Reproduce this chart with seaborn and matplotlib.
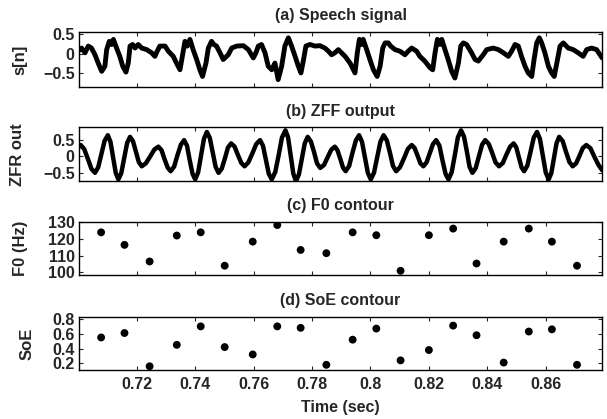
import numpy as np
import pandas as pd
import seaborn as sns
import matplotlib
matplotlib.use("Agg")
import matplotlib.pyplot as plt

# speech signal s[n] (time in sec, amplitude)
speech_t = [0.7002, 0.7011, 0.7023, 0.7034, 0.7045, 0.7057, 0.7068, 0.7080, 0.7091, 0.7097,
            0.7106, 0.7114, 0.7120, 0.7131, 0.7142, 0.7152, 0.7163, 0.7171, 0.7177, 0.7186,
            0.7194, 0.7205, 0.7217, 0.7234, 0.7251, 0.7262, 0.7270, 0.7279, 0.7297, 0.7308,
            0.7325, 0.7336, 0.7348, 0.7357, 0.7365, 0.7373, 0.7382, 0.7393, 0.7405, 0.7416,
            0.7425, 0.7437, 0.7445, 0.7456, 0.7464, 0.7473, 0.7485, 0.7496, 0.7513, 0.7525,
            0.7542, 0.7565, 0.7582, 0.7599, 0.7608, 0.7616, 0.7627, 0.7639, 0.7650, 0.7662,
            0.7673, 0.7684, 0.7696, 0.7707, 0.7719, 0.7730, 0.7742, 0.7753, 0.7762, 0.7770,
            0.7779, 0.7793, 0.7810, 0.7827,
            0.7844, 0.7856, 0.7867, 0.7878, 0.7890, 0.7901, 0.7913, 0.7930, 0.7947, 0.7955,
            0.7962, 0.7970, 0.7975, 0.7987, 0.7998, 0.8010, 0.8023, 0.8033, 0.8042, 0.8050,
            0.8061, 0.8069, 0.8084, 0.8101, 0.8118, 0.8129, 0.8141, 0.8158, 0.8169, 0.8186,
            0.8204, 0.8213, 0.8221, 0.8229, 0.8238, 0.8244, 0.8255, 0.8266, 0.8278, 0.8289,
            0.8301, 0.8309, 0.8318, 0.8329, 0.8346, 0.8358, 0.8369, 0.8386, 0.8398, 0.8420,
            0.8438, 0.8455, 0.8472, 0.8483, 0.8495, 0.8506, 0.8517, 0.8529, 0.8540, 0.8552,
            0.8560, 0.8569, 0.8578, 0.8586, 0.8597, 0.8609, 0.8620, 0.8629, 0.8640, 0.8649,
            0.8660, 0.8677, 0.8694, 0.8711, 0.8728, 0.8740, 0.8757, 0.8774, 0.8786, 0.8793]
speech_s = [0.08, 0.14, 0.02, 0.19, 0.14, -0.03, -0.24, -0.45, -0.32, 0.10,
            0.31, 0.23, 0.36, 0.14, -0.07, -0.32, -0.47, -0.24, 0.19, 0.23,
            0.14, 0.23, 0.14, 0.10, 0.02, -0.07, 0.06, 0.19, 0.19, 0.06,
            -0.07, -0.24, -0.41, -0.03, 0.31, 0.19, 0.36, 0.10, -0.15, -0.41,
            -0.58, -0.24, 0.14, 0.31, 0.23, 0.19, 0.02, -0.15, -0.03, 0.14,
            0.19, 0.20, 0.10, -0.11, 0.02, 0.19, 0.23, 0.02, -0.32, -0.41,
            -0.24, -0.66, -0.32, 0.19, 0.40, 0.19, -0.07, -0.32, -0.49, -0.19,
            0.19, 0.23, 0.19, 0.20,
            0.14, 0.06, -0.03, 0.02, 0.10, 0.02, -0.07, -0.24, -0.49, 0.02,
            0.36, 0.23, 0.36, 0.10, -0.15, -0.41, -0.58, -0.32, 0.14, 0.27,
            0.27, 0.19, 0.10, 0.06, -0.03, 0.06, 0.14, 0.06, -0.07, -0.19,
            -0.36, -0.41, 0.02, 0.36, 0.23, 0.36, 0.10, -0.15, -0.45, -0.62,
            -0.24, 0.19, 0.27, 0.23, 0.02, -0.15, -0.19, -0.03, 0.10, 0.14,
            0.10, 0.02, -0.07, 0.06, 0.23, 0.19, -0.07, -0.32, -0.49, -0.58,
            -0.15, 0.27, 0.40, 0.27, 0.02, -0.32, -0.49, -0.58, -0.15, 0.19,
            0.27, 0.14, 0.10, 0.02, -0.07, 0.10, 0.14, 0.10, -0.03, -0.11]

# ZFF output: peaks, troughs, shoulders and crossings
zff_t = [0.7002, 0.7008, 0.7020, 0.7033, 0.7045,
         0.7057, 0.7068, 0.7079, 0.7090,
         0.7101, 0.7110, 0.7119, 0.7128,
         0.7137, 0.7147, 0.7157, 0.7167,
         0.7177, 0.7187, 0.7197, 0.7207,
         0.7217, 0.7231, 0.7246, 0.7260,
         0.7274, 0.7285, 0.7295, 0.7306,
         0.7316, 0.7328, 0.7339, 0.7351,
         0.7362, 0.7372, 0.7381, 0.7391,
         0.7400, 0.7410, 0.7420, 0.7430,
         0.7440, 0.7450, 0.7460, 0.7470,
         0.7480, 0.7491, 0.7502, 0.7512,
         0.7523, 0.7535, 0.7546, 0.7558,
         0.7569, 0.7582, 0.7596, 0.7609,
         0.7622, 0.7632, 0.7642, 0.7652,
         0.7662, 0.7674, 0.7686, 0.7697,
         0.7709, 0.7718, 0.7727, 0.7736,
         0.7745, 0.7755, 0.7765, 0.7775,
         0.7785, 0.7796, 0.7807, 0.7817,
         0.7828, 0.7841, 0.7853, 0.7866,
         0.7878, 0.7887, 0.7897, 0.7906,
         0.7915, 0.7927, 0.7938, 0.7950,
         0.7961, 0.7971, 0.7981, 0.7991,
         0.8001, 0.8012, 0.8023, 0.8034,
         0.8045, 0.8056, 0.8067, 0.8077,
         0.8088, 0.8101, 0.8115, 0.8128,
         0.8141, 0.8151, 0.8161, 0.8171,
         0.8181, 0.8192, 0.8203, 0.8214,
         0.8225, 0.8236, 0.8246, 0.8257,
         0.8267, 0.8278, 0.8289, 0.8299,
         0.8310, 0.8320, 0.8330, 0.8339,
         0.8349, 0.8360, 0.8371, 0.8382,
         0.8393, 0.8405, 0.8417, 0.8428,
         0.8440, 0.8453, 0.8465, 0.8478,
         0.8490, 0.8499, 0.8508, 0.8517,
         0.8526, 0.8537, 0.8548, 0.8559,
         0.8570, 0.8580, 0.8590, 0.8600,
         0.8610, 0.8619, 0.8628, 0.8637,
         0.8646, 0.8658, 0.8669, 0.8681,
         0.8692, 0.8704, 0.8716, 0.8727,
         0.8739, 0.8753, 0.8766, 0.8780, 0.8793]
zff_y = [0.30, 0.35, 0.23, -0.08, -0.38,
         -0.50, -0.33, 0.08, 0.48,
         0.65, 0.45, -0.03, -0.50,
         -0.70, -0.51, -0.05, 0.41,
         0.60, 0.47, 0.15, -0.17,
         -0.30, -0.21, 0.00, 0.21,
         0.30, 0.19, -0.08, -0.34,
         -0.45, -0.31, 0.03, 0.36,
         0.50, 0.33, -0.10, -0.53,
         -0.70, -0.49, 0.03, 0.54,
         0.75, 0.57, 0.13, -0.32,
         -0.50, -0.37, -0.05, 0.27,
         0.40, 0.30, 0.05, -0.20,
         -0.30, -0.18, 0.10, 0.38,
         0.50, 0.33, -0.10, -0.53,
         -0.70, -0.48, 0.05, 0.58,
         0.80, 0.58, 0.03, -0.53,
         -0.75, -0.55, -0.08, 0.40,
         0.60, 0.46, 0.13, -0.21,
         -0.35, -0.26, -0.03, 0.21,
         0.30, 0.19, -0.08, -0.34,
         -0.45, -0.29, 0.10, 0.49,
         0.65, 0.45, -0.03, -0.50,
         -0.70, -0.50, -0.03, 0.45,
         0.65, 0.49, 0.10, -0.29,
         -0.45, -0.33, -0.05, 0.23,
         0.35, 0.26, 0.03, -0.21,
         -0.30, -0.18, 0.10, 0.38,
         0.50, 0.33, -0.10, -0.53,
         -0.70, -0.48, 0.05, 0.58,
         0.80, 0.61, 0.15, -0.31,
         -0.50, -0.36, 0.00, 0.36,
         0.50, 0.38, 0.10, -0.18,
         -0.30, -0.20, 0.05, 0.30,
         0.40, 0.28, -0.03, -0.33,
         -0.45, -0.28, 0.15, 0.58,
         0.75, 0.54, 0.03, -0.49,
         -0.70, -0.51, -0.05, 0.41,
         0.60, 0.47, 0.15, -0.17,
         -0.30, -0.21, 0.03, 0.26,
         0.35, 0.25, 0.00, -0.25, -0.42]

# epochs with F0 and strength of excitation
epoch_t = [0.7078, 0.7158, 0.7244, 0.7337, 0.7419, 0.7501, 0.7597, 0.7681, 0.7761, 0.7849,
           0.7939, 0.8020, 0.8103, 0.8200, 0.8283, 0.8363, 0.8456, 0.8542, 0.8621, 0.8707]
f0_hz = [123.7, 116.3, 106.5, 121.8, 123.7, 104.0, 118.2, 128.0, 113.3, 111.4,
         123.7, 122.0, 101.0, 122.0, 125.9, 105.3, 118.2, 125.9, 118.2, 104.0]
soe = [0.55, 0.61, 0.16, 0.45, 0.70, 0.42, 0.32, 0.70, 0.68, 0.18,
       0.52, 0.67, 0.24, 0.38, 0.71, 0.58, 0.21, 0.63, 0.66, 0.18]

xticks = [0.72, 0.74, 0.76, 0.78, 0.80, 0.82, 0.84, 0.86]
xtick_labels = ["0.72", "0.74", "0.76", "0.78", "0.8", "0.82", "0.84", "0.86"]

sns.set_style("ticks")
plt.rcParams['font.family'] = ['Liberation Sans', 'DejaVu Sans']
plt.rcParams['font.weight'] = 'bold'
plt.rcParams['axes.labelweight'] = 'bold'
plt.rcParams['axes.titleweight'] = 'bold'
plt.rcParams['axes.linewidth'] = 1.0

df_s = pd.DataFrame({'t': speech_t, 's': speech_s})
df_z = pd.DataFrame({'t': zff_t, 'z': zff_y})
df_e = pd.DataFrame({'t': epoch_t, 'f0': f0_hz, 'soe': soe})

fig = plt.figure(figsize=(6.07, 4.19), dpi=100)
L, W = 0.130, 0.862
ax1 = fig.add_axes([L, 0.793, W, 0.130])
ax2 = fig.add_axes([L, 0.568, W, 0.128])
ax3 = fig.add_axes([L, 0.344, W, 0.127])
ax4 = fig.add_axes([L, 0.117, W, 0.127])

sns.lineplot(data=df_s, x='t', y='s', ax=ax1, color='black', lw=3.5, sort=False)
sns.lineplot(data=df_z, x='t', y='z', ax=ax2, color='black', lw=3.2, sort=False)
sns.scatterplot(data=df_e, x='t', y='f0', ax=ax3, color='black', s=32, edgecolor='none')
sns.scatterplot(data=df_e, x='t', y='soe', ax=ax4, color='black', s=32, edgecolor='none')

ax1.set_ylim(-0.84, 0.54)
ax1.set_yticks([-0.5, 0, 0.5], ["\u22120.5", "0", "0.5"])
ax2.set_ylim(-0.75, 0.89)
ax2.set_yticks([-0.5, 0, 0.5], ["\u22120.5", "0", "0.5"])
ax3.set_ylim(98.6, 130)
ax3.set_yticks([100, 110, 120, 130], ["100", "110", "120", "130"])
ax4.set_ylim(0.11, 0.83)
ax4.set_yticks([0.2, 0.4, 0.6, 0.8], ["0.2", "0.4", "0.6", "0.8"])

titles = ["(a) Speech signal", "(b) ZFF output", "(c) F0 contour", "(d) SoE contour"]
ylabels = ["s[n]", "ZFR out", "F0 (Hz)", "SoE"]
label_x = [-0.0975, -0.103, -0.0975, -0.084]
for ax, ttl, yl, lx in zip([ax1, ax2, ax3, ax4], titles, ylabels, label_x):
    ax.set_xlim(0.7002, 0.8793)
    ax.set_xticks(xticks)
    ax.set_title(ttl, fontsize=11.5, pad=8.5)
    ax.set_ylabel(yl, fontsize=12)
    ax.yaxis.set_label_coords(lx, 0.5)
    ax.tick_params(direction='in', length=3, width=0.8, top=True, right=True,
                   labelsize=11.5, pad=3)
    ax.set_xlabel('')
    for sp in ax.spines.values():
        sp.set_visible(True)
        sp.set_color('black')

for ax in [ax1, ax2, ax3]:
    ax.set_xticklabels([])
ax4.set_xticklabels(xtick_labels)
ax4.tick_params(axis='x', pad=5)
ax4.set_xlabel("Time (sec)", fontsize=11.5, labelpad=6)

fig.savefig("out.png", dpi=100)
